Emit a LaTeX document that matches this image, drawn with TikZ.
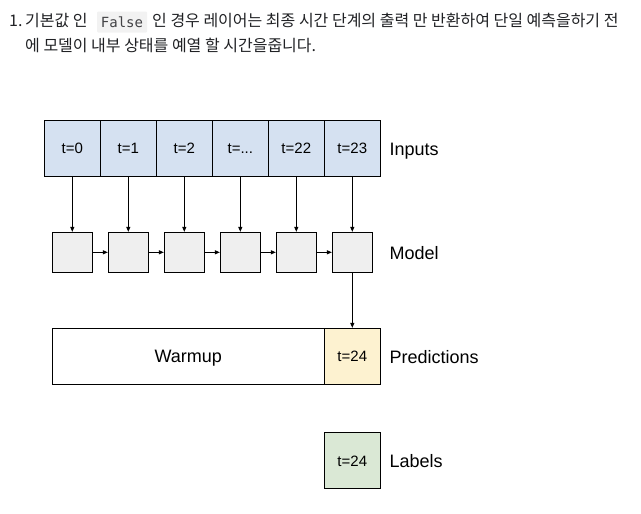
\documentclass[tikz,border=0pt]{standalone}
\usepackage{fontspec}
\setmainfont{Liberation Sans}
\newfontfamily\krfont{Noto Sans CJK KR}
\newfontfamily\codefont{DejaVu Sans Mono}
\usetikzlibrary{arrows.meta,positioning}
\definecolor{inblue}{HTML}{D5E1F1}
\definecolor{modgray}{HTML}{EFEFEF}
\definecolor{predyel}{HTML}{FDF2D0}
\definecolor{labgreen}{HTML}{DAE8D5}
\definecolor{txtgray}{HTML}{202124}
\newcommand\tdots{...}
\tikzset{
  cell/.style={draw,line width=0.9pt,minimum width=56pt,minimum height=56pt,inner sep=0pt,
    text height=10.7pt,text depth=0pt,font=\fontsize{15}{15}\selectfont},
  modelbox/.style={draw,line width=0.9pt,fill=modgray,minimum width=40pt,minimum height=40pt,inner sep=0pt},
  sidetext/.style={anchor=west,text height=12.9pt,text depth=0pt,font=\fontsize{18}{18}\selectfont},
  krtext/.style={anchor=base west,inner sep=0pt,text=txtgray,font=\krfont\fontsize{16}{16}\selectfont},
  arr/.style={line width=0.9pt,-{Triangle[length=5pt,width=4pt]}}
}
\begin{document}
\begin{tikzpicture}[x=1pt,y=-1pt]
  \useasboundingbox (0,0) rectangle (641,514);
  % text above the picture
  \node[krtext] (num) at (9,27) {1.};
  \node[krtext] (kra) at (25,27) {기본값 인};
  \node[fill=gray!10,rounded corners=1pt,minimum width=50pt,minimum height=21pt,inner sep=0pt,
        font=\codefont\fontsize{14}{14}\selectfont,text=txtgray!85] (code) at (122,22) {False};
  \node[krtext] (krb) at (152,27) {인 경우 레이어는 최종 시간 단계의 출력 만 반환하여 단일 예측을하기 전};
  \node[krtext] (krc) at (25,51) {에 모델이 내부 상태를 예열 할 시간을줍니다.};
  % inputs and model
  \foreach \lab [count=\i from 0] in {0,1,2,\tdots,22,23} {
    \node[cell,fill=inblue] (in\i) at ({72.3+56*\i},148) {t=\lab};
    \node[modelbox] (m\i) at ({72.3+56*\i},252.3) {};
    \draw[arr] (in\i) -- (m\i);
  }
  \foreach \i [evaluate=\i as \j using int(\i+1)] in {0,...,4}
    \draw[arr] (m\i) -- (m\j);
  \node[sidetext] (inlab) at (386,149) {Inputs};
  \node[sidetext] (mlab) at (386,253) {Model};
  % predictions
  \node[cell,minimum width=272pt,text height=12.9pt,font=\fontsize{18}{18}\selectfont] (warm) at (188.3,356.3) {Warmup};
  \node[cell,fill=predyel] (pred) at (352.3,356.3) {t=24};
  \draw[arr] (m5) -- (pred);
  \node[sidetext] (plab) at (386,357) {Predictions};
  % labels
  \node[cell,fill=labgreen] (lbl) at (352.3,460.7) {t=24};
  \node[sidetext] (llab) at (386,461) {Labels};
\end{tikzpicture}
\end{document}
